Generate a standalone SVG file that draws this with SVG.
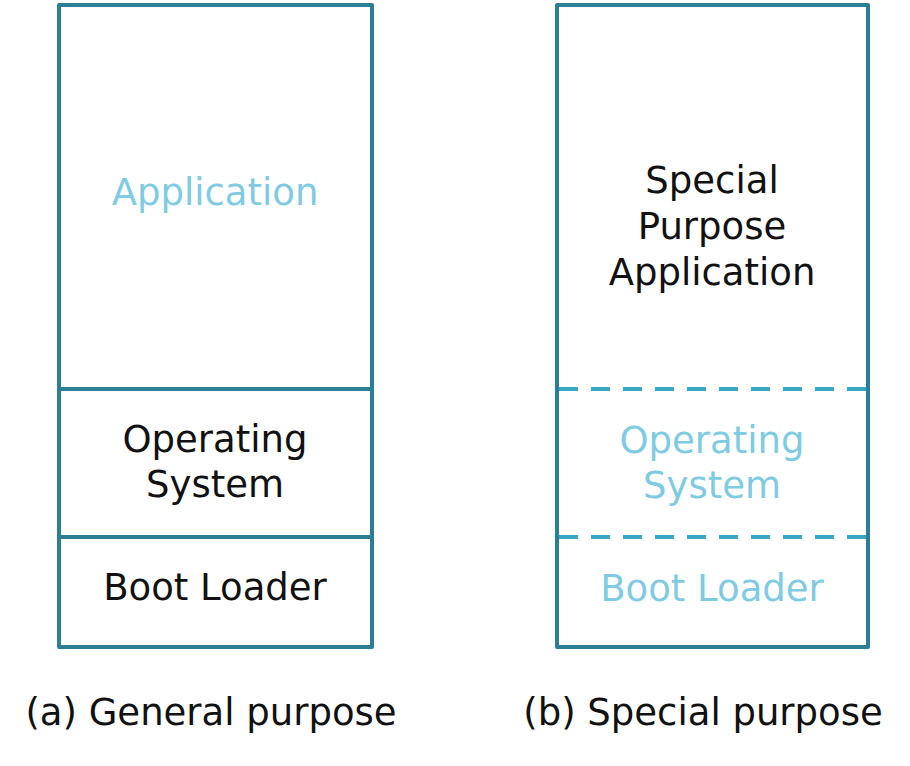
<svg xmlns="http://www.w3.org/2000/svg" width="910" height="766" viewBox="0 0 910 766">
<style>
.box{fill:none;stroke:#2B7F95;stroke-width:4;stroke-linejoin:round}
.sep{stroke:#2B7F95;stroke-width:4}
.dash{stroke:#37A8C4;stroke-width:4;stroke-dasharray:19 13}
text{font-family:"DejaVu Sans","Liberation Sans",sans-serif;font-size:37px;text-anchor:middle;fill:#111}
.light{fill:#7FCBE2}
</style>
<rect width="910" height="766" fill="#fff"/>
<g id="general">
<rect class="box" x="59" y="5" width="313" height="642"/>
<line class="sep" x1="59" y1="389" x2="372" y2="389"/>
<line class="sep" x1="59" y1="537" x2="372" y2="537"/>
<text class="light" x="215" y="205">Application</text>
<text x="215" y="452">Operating</text>
<text x="215" y="497">System</text>
<text x="215" y="600">Boot Loader</text>
<text x="211" y="725">(a) General purpose</text>
</g>
<g id="special">
<rect class="box" x="557" y="5" width="311" height="642"/>
<line class="dash" x1="559" y1="389" x2="866" y2="389"/>
<line class="dash" x1="559" y1="537" x2="866" y2="537"/>
<text x="712" y="193">Special</text>
<text x="712" y="239">Purpose</text>
<text x="712" y="285">Application</text>
<text class="light" x="712" y="453">Operating</text>
<text class="light" x="712" y="498">System</text>
<text class="light" x="712" y="601">Boot Loader</text>
<text x="703" y="725">(b) Special purpose</text>
</g>
</svg>
